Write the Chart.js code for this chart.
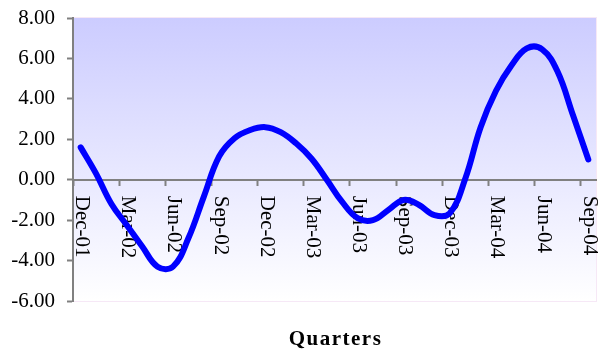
<!DOCTYPE html>
<html>
<head>
<meta charset="utf-8">
<script src="https://cdn.jsdelivr.net/npm/chart.js@4/dist/chart.umd.min.js"></script>
<style>
  html, body { margin: 0; padding: 0; background: #ffffff; }
  #wrap { width: 598px; height: 351px; }
</style>
</head>
<body>
<div id="wrap"><canvas id="c" width="598" height="351"></canvas></div>
<script>
// Monthly categories, Dec-01 .. Sep-04
const months = [
  'Dec-01',
  'Jan-02','Feb-02','Mar-02','Apr-02','May-02','Jun-02','Jul-02','Aug-02','Sep-02','Oct-02','Nov-02','Dec-02',
  'Jan-03','Feb-03','Mar-03','Apr-03','May-03','Jun-03','Jul-03','Aug-03','Sep-03','Oct-03','Nov-03','Dec-03',
  'Jan-04','Feb-04','Mar-04','Apr-04','May-04','Jun-04','Jul-04','Aug-04','Sep-04'
];

// Series values per month
const values = [
  1.60,
  0.30, -1.20, -2.25, -3.30, -4.30, -4.30, -2.90, -0.85, 1.15, 2.05, 2.45, 2.60,
  2.35, 1.80, 1.05, 0.00, -1.10, -1.90, -2.00, -1.50, -1.00, -1.25, -1.75, -1.65,
  0.05, 2.60, 4.40, 5.65, 6.50, 6.45, 5.35, 3.20, 1.00
];

// Quarter labels shown on the category axis (every third month)
const quarterLabels = ['Dec-01','Mar-02','Jun-02','Sep-02','Dec-02','Mar-03','Jun-03','Sep-03','Dec-03','Mar-04','Jun-04','Sep-04'];

// Value axis range
const yMin = -6, yMax = 8, yStep = 2;

const axisTitle = 'Quarters';

const SERIF = "'Liberation Serif', 'Times New Roman', serif";
const AXIS_GREY = '#808080';

// Soft lavender-to-white fill behind the plot area
const plotBackground = {
  id: 'plotBackground',
  beforeDraw(chart) {
    const { ctx, chartArea: a } = chart;
    const g = ctx.createLinearGradient(0, a.top, 0, a.bottom);
    g.addColorStop(0, 'rgb(204,204,255)');
    g.addColorStop(1, 'rgb(255,255,255)');
    ctx.save();
    ctx.fillStyle = g;
    ctx.fillRect(a.left, a.top, a.right - a.left, a.bottom - a.top);
    ctx.strokeStyle = 'rgb(246,232,246)';
    ctx.lineWidth = 1;
    ctx.strokeRect(a.left - 0.5, a.top - 0.5, a.right - a.left + 1, a.bottom - a.top + 1);
    ctx.restore();
  }
};

// Quarter labels written downward beneath the zero line
const quarterTicks = {
  id: 'quarterTicks',
  beforeDatasetsDraw(chart) {
    const { ctx, scales: { x, y } } = chart;
    const y0 = y.getPixelForValue(0);
    ctx.save();
    ctx.font = '21px ' + SERIF;
    ctx.fillStyle = '#000000';
    ctx.textAlign = 'left';
    ctx.textBaseline = 'middle';
    quarterLabels.forEach(lbl => {
      const px = x.getPixelForValue(months.indexOf(lbl));
      ctx.save();
      ctx.translate(px + 1, y0 + 16);
      ctx.rotate(Math.PI / 2);
      ctx.fillText(lbl, 0, 0);
      ctx.restore();
    });
    ctx.restore();
  }
};

// Bold, letter-spaced axis title under the plot
const bottomTitle = {
  id: 'bottomTitle',
  afterDraw(chart) {
    const { ctx, chartArea: a } = chart;
    ctx.save();
    ctx.font = 'bold 21px ' + SERIF;
    ctx.fillStyle = '#000000';
    ctx.textAlign = 'center';
    ctx.textBaseline = 'middle';
    if ('letterSpacing' in ctx) ctx.letterSpacing = '1.5px';
    ctx.fillText(axisTitle, (a.left + a.right) / 2 + 1, 340);
    ctx.restore();
  }
};

new Chart(document.getElementById('c'), {
  type: 'line',
  data: {
    labels: months,
    datasets: [{
      data: values,
      borderColor: '#0000ff',
      borderWidth: 6,
      tension: 0.4,
      pointRadius: 0,
      borderCapStyle: 'round',
      borderJoinStyle: 'round',
      fill: false
    }]
  },
  options: {
    responsive: false,
    animation: false,
    layout: { padding: { top: 18, right: 2, bottom: 50, left: 0 } },
    plugins: {
      legend: { display: false },
      tooltip: { enabled: false },
      title: { display: false }
    },
    scales: {
      x: {
        type: 'category',
        position: { y: 0 },
        offset: true,
        afterFit: s => { s.paddingLeft = 0; s.paddingRight = 0; },
        grid: {
          offset: true,
          drawOnChartArea: false,
          drawTicks: true,
          tickLength: 5,
          tickWidth: 2,
          tickColor: c => (c.index % 3 === 0 ? AXIS_GREY : 'rgba(0,0,0,0)')
        },
        border: { display: true, color: AXIS_GREY, width: 2 },
        ticks: { display: false, autoSkip: false }
      },
      y: {
        type: 'linear',
        min: yMin,
        max: yMax,
        afterFit: s => { s.width = 73; s.paddingTop = 0; s.paddingBottom = 0; },
        grid: {
          drawOnChartArea: false,
          drawTicks: true,
          tickLength: 6,
          tickWidth: 2,
          tickColor: AXIS_GREY
        },
        border: { display: true, color: AXIS_GREY, width: 2 },
        ticks: {
          stepSize: yStep,
          padding: 12,
          color: '#000000',
          font: { family: SERIF, size: 21 },
          callback: v => Number(v).toFixed(2)
        }
      }
    }
  },
  plugins: [plotBackground, quarterTicks, bottomTitle]
});
</script>
</body>
</html>
